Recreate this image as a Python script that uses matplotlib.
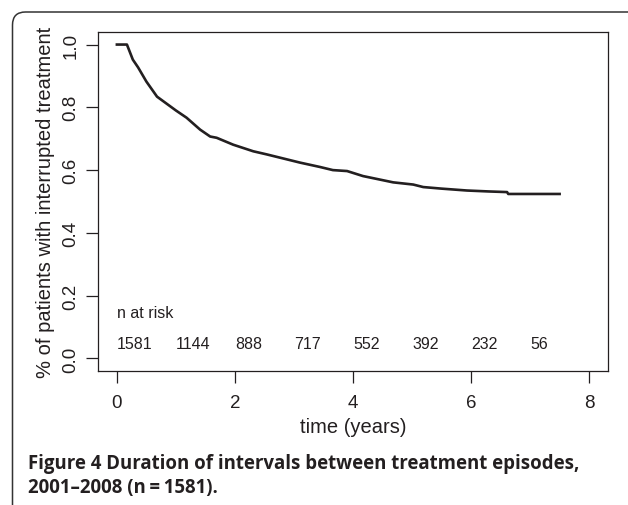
import matplotlib
matplotlib.use("Agg")
import matplotlib.pyplot as plt
from matplotlib.patches import FancyBboxPatch

# survival curve
time_years = [0, 0.17, 0.27, 0.36, 0.5, 0.68, 0.84, 1.0, 1.18, 1.41, 1.58, 1.69,
              1.97, 2.31, 2.54, 2.82, 3.1, 3.44, 3.66, 3.9, 4.17, 4.4, 4.68,
              5.02, 5.19, 5.5, 5.93, 6.3, 6.61, 6.63, 7.5]
surv = [1.0, 1.0, 0.952, 0.927, 0.882, 0.834, 0.812, 0.79, 0.767, 0.729, 0.707,
        0.703, 0.681, 0.66, 0.650, 0.637, 0.624, 0.610, 0.600, 0.597, 0.581,
        0.572, 0.561, 0.554, 0.546, 0.541, 0.535, 0.532, 0.530, 0.524, 0.524]

risk_times = [0, 1, 2, 3, 4, 5, 6, 7]
n_at_risk = [1581, 1144, 888, 717, 552, 392, 232, 56]

x_ticks = [0, 2, 4, 6, 8]
y_ticks = [0.0, 0.2, 0.4, 0.6, 0.8, 1.0]

ink = "#231f20"
plt.rcParams['font.family'] = ['Liberation Sans', 'DejaVu Sans']

fig = plt.figure(figsize=(6.28, 5.06), dpi=100)
ax = fig.add_axes([98/628, 1-372/506, 510/628, 339/506])

ax.plot(time_years, surv, color=ink, lw=1.9, solid_joinstyle='round')

ax.text(0, 0.147, "n at risk", fontsize=11.5, color=ink, ha='left', va='center')
for t, n in zip(risk_times, n_at_risk):
    ax.text(t, 0.048, str(n), fontsize=11.5, color=ink, ha='left', va='center')

ax.set_xlim(-0.32, 8.32)
ax.set_ylim(-0.04, 1.04)
ax.set_xticks(x_ticks)
ax.set_xticklabels([str(v) for v in x_ticks])
ax.set_yticks(y_ticks)
ax.set_yticklabels(["%.1f" % v for v in y_ticks])
ax.tick_params(length=8.5, width=0.9, color=ink, labelcolor=ink, labelsize=13.5)
ax.tick_params(axis='x', pad=8)
ax.tick_params(axis='y', pad=5, labelrotation=90)
for lbl in ax.get_yticklabels():
    lbl.set_va('center')
for s in ax.spines.values():
    s.set_linewidth(0.9)
    s.set_color(ink)

ax.set_xlabel("time (years)", fontsize=14.5, color=ink, labelpad=4.5)
ax.set_ylabel("% of patients with interrupted treatment", fontsize=14.5, color=ink, labelpad=5.5)

# rounded frame of the figure panel, open to the right and bottom
frame = FancyBboxPatch((0.125, -1.0), 7.0, 5.93, boxstyle="round,pad=0,rounding_size=0.13",
                       transform=fig.dpi_scale_trans, fill=False, edgecolor="#333333", lw=1.1)
fig.patches.append(frame)

fig.text(28/628, 1-469.5/506, "Figure 4 Duration of intervals between treatment episodes,",
         family='Open Sans', weight='bold', fontsize=13.4, color=ink, va='baseline')
fig.text(28/628, 1-493.5/506, "2001\u20132008 (n\u2009=\u20091581).",
         family=['Open Sans', 'DejaVu Sans'], weight='bold', fontsize=13.4, color=ink, va='baseline')

fig.savefig("out.png", dpi=100)
